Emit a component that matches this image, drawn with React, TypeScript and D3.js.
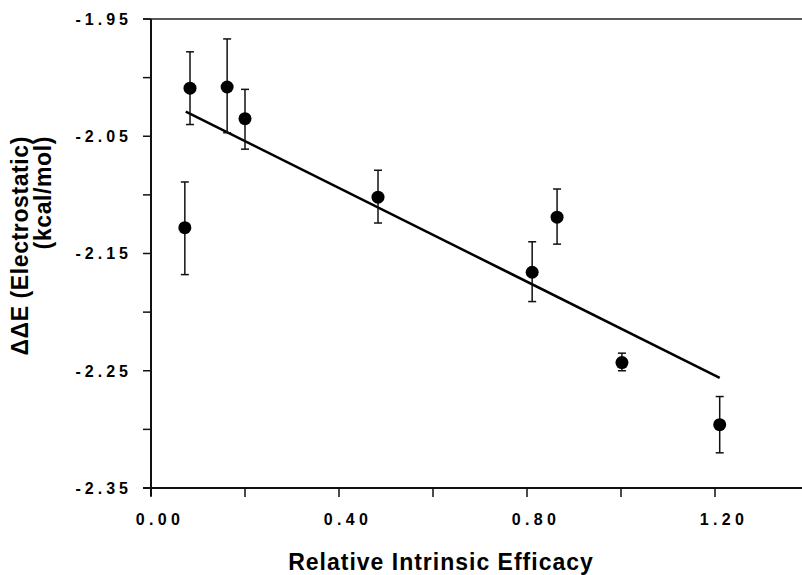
import React from "react";
import * as d3 from "d3";

const efficacy = [0.083, 0.162, 0.2, 0.072, 0.483, 0.811, 0.864, 1.002, 1.21];
const deltaE = [-2.009, -2.008, -2.035, -2.128, -2.102, -2.166, -2.119, -2.243, -2.296];
const errTop = [-1.978, -1.967, -2.01, -2.089, -2.079, -2.14, -2.095, -2.235, -2.272];
const errBottom = [-2.04, -2.047, -2.061, -2.168, -2.124, -2.191, -2.142, -2.25, -2.32];
const fitX = [0.074, 1.21];
const fitY = [-2.029, -2.256];
const xTicks = [0, 0.2, 0.4, 0.6, 0.8, 1.0, 1.2];
const xTickLabels = ["0.00", "", "0.40", "", "0.80", "", "1.20"];
const yTicks = [-1.95, -2.0, -2.05, -2.1, -2.15, -2.2, -2.25, -2.3, -2.35];
const yTickLabels = ["-1.95", "", "-2.05", "", "-2.15", "", "-2.25", "", "-2.35"];

export default function App() {
  const W = 802, H = 575;
  const x = d3.scaleLinear().domain([0, 1.2]).range([151, 715]);
  const y = d3.scaleLinear().domain([-2.35, -1.95]).range([488, 19]);
  const font = "'Liberation Sans', Arial, Helvetica, sans-serif";
  const line = d3.line<number>().x((_, i) => x(fitX[i])).y((d) => y(d));
  const x0 = x(0), yb = y(-2.35), yt = y(-1.95);
  return (
    <div style={{ position: "absolute", left: 0, top: 0 }}>
      <svg width={W} height={H} style={{ display: "block", background: "#fff" }}>
        {/* frame */}
        <line x1={x0 - 8} x2={W} y1={yt} y2={yt} stroke="#222" strokeWidth={1.5} />
        <line x1={x0 - 8} x2={W} y1={yb} y2={yb} stroke="#111" strokeWidth={2} />
        <line x1={x0} x2={x0} y1={yt} y2={yb + 8} stroke="#111" strokeWidth={2} />
        {/* y ticks */}
        {yTicks.map((t, i) => (
          <g key={"y" + i}>
            <line x1={x0 - 8} x2={x0} y1={y(t)} y2={y(t)} stroke="#111" strokeWidth={1.5} />
            {yTickLabels[i] && (
              <text x={132} y={y(t)} dy="0.36em" textAnchor="end" fontFamily={font}
                fontWeight="bold" fontSize={16} letterSpacing={4} fill="#000">
                {yTickLabels[i]}
              </text>
            )}
          </g>
        ))}
        {/* x ticks */}
        {xTicks.map((t, i) => (
          <g key={"x" + i}>
            <line x1={x(t)} x2={x(t)} y1={yb} y2={yb + 9} stroke="#111" strokeWidth={1.5} />
            {xTickLabels[i] && (
              <text x={x(t) + 9} y={525} textAnchor="middle" fontFamily={font}
                fontWeight="bold" fontSize={16} letterSpacing={4.3} fill="#000">
                {xTickLabels[i]}
              </text>
            )}
          </g>
        ))}
        {/* fit line */}
        <path d={line(fitY) || ""} fill="none" stroke="#000" strokeWidth={2.5} />
        {/* error bars and points */}
        {efficacy.map((e, i) => (
          <g key={"p" + i}>
            <line x1={x(e)} x2={x(e)} y1={y(errTop[i])} y2={y(errBottom[i])} stroke="#111" strokeWidth={1.5} />
            <line x1={x(e) - 4} x2={x(e) + 4} y1={y(errTop[i])} y2={y(errTop[i])} stroke="#111" strokeWidth={1.5} />
            <line x1={x(e) - 4} x2={x(e) + 4} y1={y(errBottom[i])} y2={y(errBottom[i])} stroke="#111" strokeWidth={1.5} />
            <circle cx={x(e)} cy={y(deltaE[i])} r={6.5} fill="#000" />
          </g>
        ))}
        {/* axis titles */}
        <text x={441} y={570} textAnchor="middle" fontFamily={font} fontWeight="bold"
          fontSize={23} letterSpacing={1} fill="#000">
          Relative Intrinsic Efficacy
        </text>
        <g transform="translate(28,136) rotate(-90)">
          <text x={0} y={0} textAnchor="end" fontFamily={font} fontWeight="bold" fontSize={23} letterSpacing={0.6} fill="#000">
            ΔΔE (Electrostatic)
          </text>
          <text x={0} y={23} textAnchor="end" fontFamily={font} fontWeight="bold" fontSize={23} letterSpacing={0.6} fill="#000">
            (kcal/mol)
          </text>
        </g>
      </svg>
    </div>
  );
}
